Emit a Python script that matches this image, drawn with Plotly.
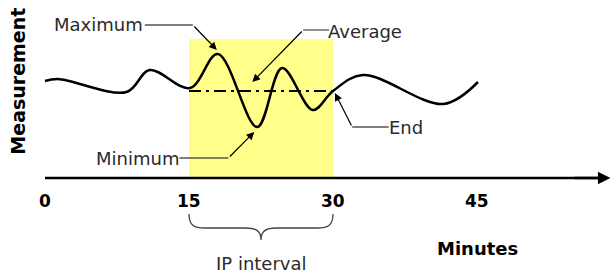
import plotly.graph_objects as go

# ---- data ----
minutes = [0, 1.35, 8.5, 10.9, 15.1, 18.0, 22.1, 24.7, 27.9, 30.0, 33.1, 41.5, 45.1]
measurement = [9.7, 9.9, 8.6, 10.8, 9.0, 12.4, 5.1, 11.0, 6.8, 8.7, 10.3, 7.4, 9.6]
tick_vals = [0, 15, 30, 45]
tick_labels = ["0", "15", "30", "45"]
ip_start, ip_end = 15, 30
ip_top = 13.9
average_value = 8.7

FONT = "DejaVu Sans"
TXT = "#2a2a2a"
LEAD = "#555555"

fig = go.Figure()

# curve
fig.add_trace(go.Scatter(x=minutes, y=measurement, mode="lines",
                         line=dict(color="black", width=2.5, shape="spline", smoothing=1.0),
                         hoverinfo="skip", showlegend=False))
# average line
fig.add_trace(go.Scatter(x=[ip_start, ip_end], y=[average_value, average_value], mode="lines",
                         line=dict(color="black", width=2, dash="12px,5px,3px,5px"),
                         hoverinfo="skip", showlegend=False))

shapes = []
# IP interval highlight
shapes.append(dict(type="rect", xref="x", yref="y", x0=ip_start, x1=ip_end, y0=0, y1=ip_top,
                   fillcolor="#FFFF8A", line=dict(width=0), layer="below"))
# x axis line
shapes.append(dict(type="line", xref="x", yref="y", x0=0, x1=58.3, y0=0, y1=0,
                   line=dict(color="black", width=2.5)))
# leader lines (horizontal parts)
for x0, x1, y in [(10.4, 15.4, 15.3), (26.9, 29.6, 14.8), (14.0, 19.1, 2.0), (32.0, 35.8, 5.1)]:
    shapes.append(dict(type="line", xref="x", yref="y", x0=x0, x1=x1, y0=y, y1=y,
                       line=dict(color=LEAD, width=1.3)))
# brace under IP interval
mid = (ip_start + ip_end) / 2
brace = (f"M {ip_start},-3.6 C {ip_start},-4.8 {ip_start+0.6},-5.0 {ip_start+1.6},-5.0 "
         f"L {mid-1.6},-5.0 C {mid-0.5},-5.0 {mid},-5.3 {mid},-6.2 "
         f"C {mid},-5.3 {mid+0.5},-5.0 {mid+1.6},-5.0 "
         f"L {ip_end-1.6},-5.0 C {ip_end-0.6},-5.0 {ip_end},-4.8 {ip_end},-3.6")
shapes.append(dict(type="path", xref="x", yref="y", path=brace,
                   line=dict(color="#444444", width=1.3)))

ann = []
# tick labels
for v, t in zip(tick_vals, tick_labels):
    ann.append(dict(x=v, y=-2.3, xref="x", yref="y", text=t, showarrow=False,
                    font=dict(family=FONT, size=17, color="black", weight="bold")))
# axis arrow head
ann.append(dict(x=58.9, y=0, xref="x", yref="y", ax=55, ay=0, axref="x", ayref="y",
                text="", showarrow=True, arrowhead=2, arrowsize=1.0, arrowwidth=2.5,
                arrowcolor="black", standoff=0))
# titles
ann.append(dict(x=45.1, y=-7.0, xref="x", yref="y", text="Minutes", showarrow=False,
                font=dict(family=FONT, size=18, color="black", weight="bold")))
ann.append(dict(x=-2.85, y=9.7, xref="x", yref="y", text="Measurement", showarrow=False,
                textangle=-90, font=dict(family=FONT, size=19, color="black", weight="bold")))
ann.append(dict(x=22.55, y=-8.5, xref="x", yref="y", text="IP interval", showarrow=False,
                font=dict(family=FONT, size=18, color=TXT)))
# labels with arrows
labels = [("Maximum", 5.6, 15.4, 17.9, 12.8, 15.4, 15.3),
          ("Average", 33.3, 14.7, 21.6, 9.6, 26.9, 14.8),
          ("Minimum", 9.6, 2.0, 21.8, 4.6, 19.1, 2.0),
          ("End", 37.6, 5.1, 30.2, 8.5, 32.0, 5.1)]
for text, tx, ty, hx, hy, lx, ly in labels:
    ann.append(dict(x=tx, y=ty, xref="x", yref="y", text=text, showarrow=False,
                    font=dict(family=FONT, size=18, color=TXT)))
    ann.append(dict(x=hx, y=hy, ax=lx, ay=ly, xref="x", yref="y", axref="x", ayref="y",
                    text="", showarrow=True, arrowhead=2, arrowsize=1.3, arrowwidth=1.2,
                    arrowcolor="black", standoff=0))

fig.update_layout(
    width=611, height=278, margin=dict(l=0, r=0, t=0, b=0),
    paper_bgcolor="white", plot_bgcolor="white",
    xaxis=dict(range=[-45/9.6, 566/9.6], visible=False, fixedrange=True),
    yaxis=dict(range=[-10, 17.8], visible=False, fixedrange=True),
    shapes=shapes, annotations=ann, showlegend=False,
)

fig.write_html("out.html", config={"displayModeBar": False},
               post_script="document.body.style.margin='0';document.body.style.overflow='hidden';")
